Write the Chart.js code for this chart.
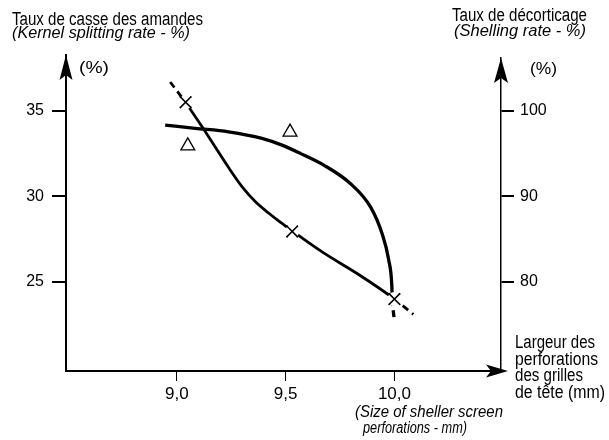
<!DOCTYPE html>
<html>
<head>
<meta charset="utf-8">
<script src="https://cdn.jsdelivr.net/npm/chart.js@4.4.1/dist/chart.umd.min.js"></script>
<style>
  html, body { margin: 0; padding: 0; background: #fff; }
  #chart { display: block; }
</style>
</head>
<body>
<canvas id="chart" width="609" height="440"></canvas>
<script>
// Largeur des perforations (mm) -> taux de casse / taux de décorticage
const xTicks = [9.0, 9.5, 10.0];
const xTickLabels = ["9,0", "9,5", "10,0"];
const leftTicks = [25, 30, 35];
const rightTicks = [80, 90, 100];

// courbe du taux de casse (axe gauche)
const kernelCurveX = [8.969, 9.038, 9.121, 9.176, 9.236, 9.301, 9.360, 9.420, 9.475, 9.526, 9.673, 9.830, 9.995, 10.087];
const kernelCurveY = [36.68, 35.51, 33.96, 32.88, 31.71, 30.54, 29.70, 29.04, 28.49, 28.02, 26.71, 25.48, 24.05, 23.11];
const kernelPointsX = [9.04, 9.53, 10.0];
const kernelPointsY = [35.5, 27.95, 24.0];

// courbe du taux de décorticage (axe droit)
const shellCurveX = [8.946, 9.084, 9.237, 9.391, 9.483, 9.567, 9.675, 9.797, 9.890, 9.943, 9.974, 9.988, 9.990, 9.998];
const shellCurveY = [98.32, 97.94, 97.54, 96.77, 95.98, 95.02, 93.65, 91.51, 88.77, 85.66, 82.54, 79.61, 78.09, 75.87];
const shellPointsX = [9.05, 9.52];
const shellPointsY = [95.9, 97.5];

const FONT = '"Liberation Sans", Arial, sans-serif';
const toXY = (xs, ys) => xs.map((x, i) => ({ x: x, y: ys[i] }));

// premier / dernier segment en pointillés (extrapolation)
function dashEnds(first, last, n) {
    return ctx => {
        if (first && ctx.p0DataIndex === 0) return [7, 5];
        if (last && ctx.p1DataIndex === n - 1) return [7, 5];
        return undefined;
    };
}

function arrowHead(ctx, tx, ty, dir, len, half) {
    ctx.beginPath();
    if (dir === "up") {
        ctx.moveTo(tx, ty);
        ctx.lineTo(tx - half, ty + len);
        ctx.lineTo(tx, ty + len - 5);
        ctx.lineTo(tx + half, ty + len);
    } else {
        ctx.moveTo(tx, ty);
        ctx.lineTo(tx - len, ty - half);
        ctx.lineTo(tx - len + 5, ty);
        ctx.lineTo(tx - len, ty + half);
    }
    ctx.closePath();
    ctx.fill();
}

// texte condensé à une largeur donnée (police étroite du document)
function drawFit(ctx, text, x, y, font, width, align) {
    ctx.font = font;
    const w = ctx.measureText(text).width;
    const left = align === "center" ? x - width / 2 : x;
    ctx.save();
    ctx.translate(left, y);
    ctx.scale(width / w, 1);
    ctx.textAlign = "left";
    ctx.fillText(text, 0, 0);
    ctx.restore();
}

// coupure blanche du trait autour des croix, puis les croix par-dessus
const markerGaps = {
    id: "markerGaps",
    afterDatasetsDraw(chart) {
        const ctx = chart.ctx;
        const meta = chart.getDatasetMeta(0);
        ctx.save();
        ctx.fillStyle = "#fff";
        meta.data.forEach(pt => {
            ctx.beginPath();
            ctx.arc(pt.x, pt.y, 7, 0, Math.PI * 2);
            ctx.fill();
        });
        ctx.restore();
        meta.data.forEach(pt => pt.draw(ctx, chart.chartArea));
    }
};

const annotations = {
    id: "annotations",
    afterDraw(chart) {
        const ctx = chart.ctx;
        const a = chart.chartArea;
        ctx.save();
        ctx.fillStyle = "#000";
        ctx.strokeStyle = "#000";

        // prolongement des axes + flèches
        ctx.lineWidth = 2;
        ctx.beginPath();
        ctx.moveTo(a.left, a.top);
        ctx.lineTo(a.left, a.top - 4);
        ctx.moveTo(a.right, a.bottom);
        ctx.lineTo(a.right + 2, a.bottom);
        ctx.stroke();
        arrowHead(ctx, a.left, a.top - 3, "up", 25, 6.5);
        arrowHead(ctx, a.right, a.top, "up", 25, 7);
        arrowHead(ctx, a.right + 7, a.bottom, "right", 22, 6.5);

        ctx.textBaseline = "alphabetic";
        const reg = "18px " + FONT;
        const ital = "italic 16px " + FONT;

        drawFit(ctx, "Taux de casse des amandes", 12, 25, reg, 191);
        drawFit(ctx, "(Kernel splitting rate - %)", 12, 38, ital, 178);
        drawFit(ctx, "(%)", 79, 73, "17px " + FONT, 30);

        drawFit(ctx, "Taux de décorticage", 519.5, 21, reg, 135, "center");
        drawFit(ctx, "(Shelling rate - %)", 520, 36, ital, 132, "center");
        drawFit(ctx, "(%)", 543.5, 74, "17px " + FONT, 27, "center");

        const side = ["Largeur des", "perforations", "des grilles", "de tête (mm)"];
        const sideW = [80, 83, 68, 90];
        side.forEach((t, i) => drawFit(ctx, t, 515, 348 + i * 16.5, reg, sideW[i]));

        drawFit(ctx, "(Size of sheller screen", 429, 417, ital, 148, "center");
        drawFit(ctx, "perforations - mm)", 415, 433, ital, 104, "center");
        ctx.restore();
    }
};

function axisStyle(ticks, tickLen, lineW, borderW) {
    return {
        grid: { drawOnChartArea: false, drawTicks: true, tickLength: tickLen, color: "#000", lineWidth: lineW },
        border: { display: true, color: "#000", width: borderW },
        afterBuildTicks: scale => { scale.ticks = ticks.map(v => ({ value: v })); }
    };
}

new Chart(document.getElementById("chart"), {
    type: "scatter",
    data: {
        datasets: [
            {
                label: "Taux de casse (mesures)",
                data: toXY(kernelPointsX, kernelPointsY),
                yAxisID: "y",
                pointStyle: "crossRot",
                pointRadius: 8,
                borderColor: "#000",
                borderWidth: 1.6
            },
            {
                label: "Taux de décorticage (mesures)",
                data: toXY(shellPointsX, shellPointsY),
                yAxisID: "y2",
                pointStyle: "triangle",
                pointRadius: 8,
                backgroundColor: "rgba(255,255,255,0)",
                borderColor: "#000",
                borderWidth: 1.3
            },
            {
                label: "Taux de casse",
                data: toXY(kernelCurveX, kernelCurveY),
                yAxisID: "y",
                showLine: true,
                borderColor: "#000",
                borderWidth: 2.8,
                pointRadius: 0,
                cubicInterpolationMode: "monotone",
                segment: { borderDash: dashEnds(true, true, kernelCurveX.length) }
            },
            {
                label: "Taux de décorticage",
                data: toXY(shellCurveX, shellCurveY),
                yAxisID: "y2",
                showLine: true,
                borderColor: "#000",
                borderWidth: 3.3,
                pointRadius: 0,
                cubicInterpolationMode: "monotone",
                segment: { borderDash: dashEnds(false, true, shellCurveX.length) }
            }
        ]
    },
    options: {
        responsive: false,
        animation: false,
        layout: { padding: { top: 58, left: 0, right: 0, bottom: 0 } },
        plugins: {
            legend: { display: false },
            tooltip: { enabled: false }
        },
        scales: {
            x: Object.assign(axisStyle(xTicks, 10, 1, 2), {
                type: "linear",
                position: "bottom",
                min: 8.49,
                max: 10.49,
                ticks: {
                    color: "#000",
                    font: { family: FONT, size: 17 },
                    padding: 3,
                    maxRotation: 0,
                    callback: v => xTickLabels[xTicks.indexOf(v)]
                },
                afterFit: s => { s.height = 69; }
            }),
            y: Object.assign(axisStyle(leftTicks, 14, 2, 2), {
                type: "linear",
                position: "left",
                min: 19.8,
                max: 38.08,
                ticks: { color: "#000", font: { family: FONT, size: 16 }, padding: 8 },
                afterFit: s => { s.width = 66; }
            }),
            y2: Object.assign(axisStyle(rightTicks, 13, 2, 1.5), {
                type: "linear",
                position: "right",
                min: 69.6,
                max: 106.16,
                ticks: { color: "#000", font: { family: FONT, size: 16 }, padding: 6 },
                afterFit: s => { s.width = 108; }
            })
        }
    },
    plugins: [markerGaps, annotations]
});
</script>
</body>
</html>
